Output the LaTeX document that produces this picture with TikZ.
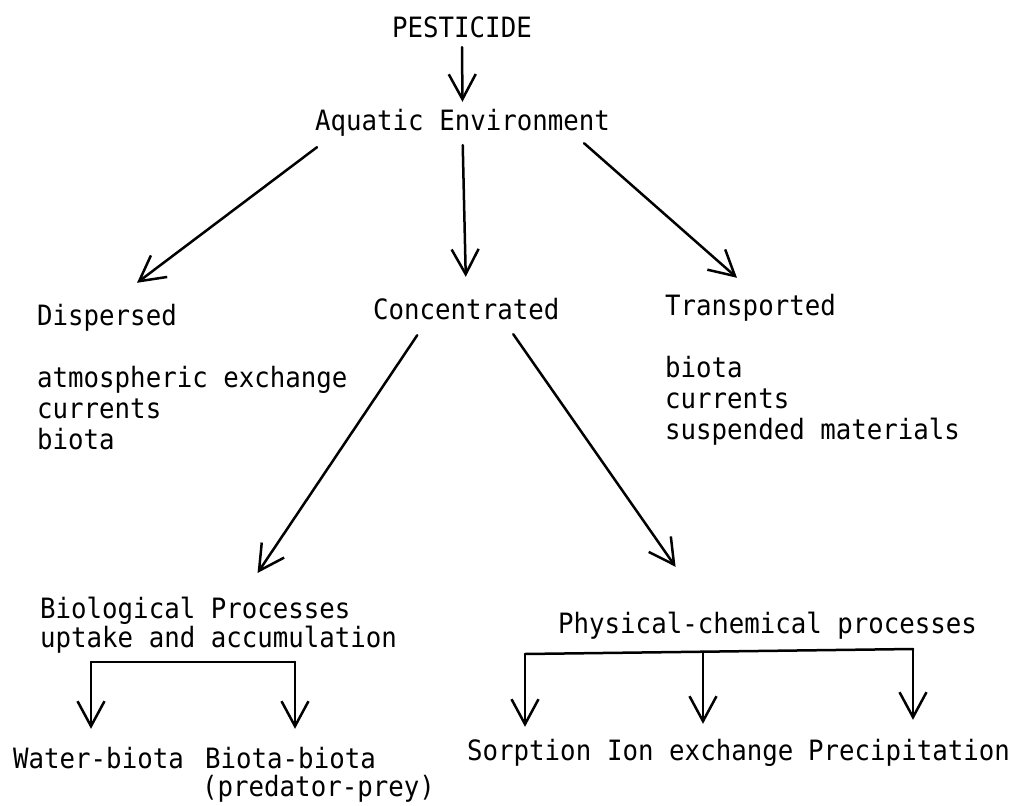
\documentclass[tikz,border=0pt]{standalone}
\usepackage{fontspec}
\usetikzlibrary{arrows.meta}
\newfontfamily\typew[FakeStretch=0.92]{DejaVu Sans Mono}

\begin{document}
\begin{tikzpicture}
				[x=1pt,y=-1pt,
				lbl/.style={inner sep=0pt,anchor=base west,font=\typew\fontsize{28}{31}\selectfont,text height=20pt,text depth=6pt},
				blk/.style={inner sep=0pt,anchor=north west,align=left,font=\typew\fontsize{28}{23}\selectfont},
				ln/.style={line width=2.5pt,line cap=round,line join=round},
				arr/.style={ln,-{Straight Barb[length=25pt,width=27pt,line width=2.5pt]}}]
				\useasboundingbox (0,0) rectangle (1026,806);
				
				\node[lbl] (pest) at (392,37)  {PESTICIDE};
				\node[lbl] (aqua) at (315,130)  {Aquatic Environment};
				\node[lbl] (disp) at (37,325)  {Dispersed};
				\node[lbl] (conc) at (373,319)  {Concentrated};
				\node[lbl] (trans) at (665,315)  {Transported};
				
				\foreach \t [count=\i] in {atmospheric exchange,currents,biota}
				\node[lbl] (d\i) at (37,356+31*\i) {\t};
				\foreach \t [count=\i] in {biota,currents,suspended materials}
				\node[lbl] (t\i) at (665,346+31*\i) {\t};
				
				\node[blk] (bio) at (40,597)  {Biological Processes\\uptake and accumulation};
				\node[lbl] (phys) at (558,633)  {Physical-chemical processes};
				
				\node[lbl] (wat) at (13,768)  {Water-biota};
				\node[lbl] (bb) at (205,768)  {Biota-biota};
				\node[lbl] (pp) at (202,796)  {(predator-prey)};
				\node[lbl] (sorp) at (467,760)  {Sorption};
				\node[lbl] (ion) at (607,760)  {Ion exchange};
				\node[lbl] (prec) at (808,760)  {Precipitation};
				
				\draw[arr,shorten <=4pt,shorten >=8pt] (pest.south) -- (aqua.north);
				\draw[arr] ([shift={(2,11)}]aqua.south west) -- ([shift={(100,-22)}]disp.north west);
				\draw[arr,shorten <=9pt,shorten >=22pt] (aqua.south) -- (conc.north);
				\draw[arr] ([shift={(-26,7)}]aqua.south east) -- ([shift={(72,-17)}]trans.north west);
				\draw[arr] ([shift={(-49,10)}]conc.south) -- ([shift={(39,-24)}]bio.north);
				\draw[arr] ([shift={(47,9)}]conc.south) -- ([shift={(-92,-46)}]phys.north);
				
				\coordinate (bl) at (91,662);
				\coordinate (br) at (295,662);
				\draw[ln] (bl) -- (br);
				\draw[arr,shorten >=19pt] (bl) -- (bl |- wat.north);
				\draw[arr,shorten >=19pt] (br) -- (br |- bb.north);
				
				\coordinate (pl) at (525,654);
				\coordinate (pm) at (703,652);
				\coordinate (pr) at (913,649);
				\draw[ln] (pl) -- (pr);
				\draw[arr,shorten >=13pt] (pl) -- (pl |- sorp.north);
				\draw[arr,shorten >=16pt] (pm) -- (pm |- ion.north);
				\draw[arr,shorten >=20pt] (pr) -- (pr |- prec.north);
\end{tikzpicture}
\end{document}
